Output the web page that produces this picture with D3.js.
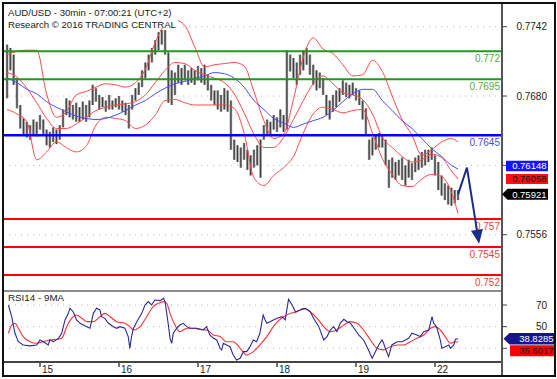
<!DOCTYPE html>
<html><head><meta charset="utf-8">
<script src="https://cdn.jsdelivr.net/npm/d3@7"></script>
<style>
html,body{margin:0;padding:0;background:#fff;}
svg{display:block;font-family:"Liberation Sans",Arial,sans-serif;}
</style></head><body>
<svg id="c" width="557" height="379"></svg>
<script>
// ---------- DATA ----------
// time axis: trading hours since 14th 00:00 (weekend removed)
const dayTickHours = [24, 48, 72, 96, 120, 144];
const dayTickLabels = ["15", "16", "17", "18", "19", "22"];
const priceTicks = [0.7742, 0.7680, 0.7618, 0.7556];
const priceTickLabels = ["0.7742", "0.7680", "", "0.7556"];   // 0.7618 sits under the value tags
const rsiTicks = [70, 50, 30];
const rsiTickLabels = ["70", "50", ""];                         // 30 sits under the value tags

const titleLine1 = "AUD/USD - 30min - 07:00:21 (UTC+2)";
const titleLine2 = "Research \u00A9 2016 TRADING CENTRAL";
const rsiTitle = "RSI14 - 9MA";

// price bars (one every hour starting at hour 14)
const barStartHour = 14;
const barHighs = [
0.7726,0.7723,0.7717,0.7696,0.7672,0.7660,0.7657,0.7654,0.7659,0.7657,
0.7663,0.7659,0.7650,0.7648,0.7652,0.7650,0.7654,0.7668,0.7678,0.7676,
0.7672,0.7674,0.7670,0.7675,0.7672,0.7676,0.7690,0.7687,0.7681,0.7679,
0.7676,0.7681,0.7676,0.7678,0.7680,0.7676,0.7674,0.7672,0.7681,0.7687,
0.7692,0.7703,0.7710,0.7717,0.7723,0.7730,0.7737,0.7739,0.7739,0.7719,
0.7703,0.7701,0.7708,0.7705,0.7708,0.7703,0.7705,0.7703,0.7707,0.7705,
0.7708,0.7699,0.7690,0.7685,0.7685,0.7681,0.7687,0.7685,0.7676,0.7641,
0.7636,0.7634,0.7638,0.7632,0.7627,0.7632,0.7636,0.7641,0.7654,0.7659,
0.7657,0.7663,0.7661,0.7668,0.7663,0.7721,0.7717,0.7714,0.7710,0.7717,
0.7721,0.7723,0.7717,0.7708,0.7703,0.7701,0.7696,0.7681,0.7676,0.7681,
0.7685,0.7687,0.7694,0.7692,0.7690,0.7692,0.7687,0.7685,0.7676,0.7669,
0.7641,0.7643,0.7645,0.7647,0.7645,0.7641,0.7623,0.7625,0.7621,0.7623,
0.7625,0.7618,0.7623,0.7620,0.7625,0.7627,0.7630,0.7632,0.7632,0.7634,
0.7627,0.7621,0.7609,0.7602,0.7600,0.7598,0.7596,0.7596];
const barLows = [
0.7678,0.7703,0.7690,0.7669,0.7651,0.7645,0.7643,0.7641,0.7645,0.7644,
0.7650,0.7645,0.7636,0.7634,0.7639,0.7637,0.7641,0.7652,0.7663,0.7661,
0.7659,0.7657,0.7657,0.7659,0.7657,0.7661,0.7672,0.7675,0.7668,0.7670,
0.7666,0.7668,0.7668,0.7670,0.7668,0.7666,0.7663,0.7651,0.7668,0.7676,
0.7681,0.7688,0.7696,0.7703,0.7710,0.7717,0.7721,0.7726,0.7717,0.7674,
0.7672,0.7681,0.7692,0.7690,0.7694,0.7690,0.7692,0.7690,0.7694,0.7692,
0.7690,0.7685,0.7676,0.7672,0.7668,0.7666,0.7668,0.7666,0.7632,0.7623,
0.7621,0.7616,0.7623,0.7614,0.7609,0.7616,0.7618,0.7607,0.7641,0.7645,
0.7645,0.7650,0.7648,0.7652,0.7648,0.7650,0.7702,0.7696,0.7690,0.7699,
0.7703,0.7708,0.7699,0.7690,0.7685,0.7687,0.7681,0.7663,0.7659,0.7666,
0.7670,0.7675,0.7681,0.7679,0.7678,0.7681,0.7676,0.7672,0.7659,0.7645,
0.7623,0.7627,0.7632,0.7634,0.7634,0.7618,0.7598,0.7607,0.7605,0.7609,
0.7605,0.7600,0.7607,0.7605,0.7612,0.7614,0.7616,0.7618,0.7621,0.7623,
0.7609,0.7596,0.7591,0.7587,0.7583,0.7582,0.7584,0.7587];
const lastClose = 0.75921;

// Bollinger bands and moving average (sampled every 3 hours)
const bandHours = [14,17,20,23,26,29,32,35,38,41,44,47,50,53,56,59,62,65,68,71,74,77,80,83,86,89,92,95,98,101,104,107,110,113,116,119,122,125,128,131,134,137,140,143,146,149,151];
const bandUpper = [
0.7717,0.7720,0.7721,0.7721,0.7682,0.7661,0.7666,0.7681,0.7684,0.7688,
0.7691,0.7690,0.7688,0.7692,0.7704,0.7728,0.7744,0.7748,0.7743,0.7724,
0.7706,0.7708,0.7709,0.7710,0.7707,0.7684,0.7658,0.7642,0.7646,0.7677,
0.7715,0.7732,0.7722,0.7718,0.7708,0.7698,0.7699,0.7712,0.7702,0.7680,
0.7659,0.7645,0.7627,0.7632,0.7639,0.7642,0.7639];
const bandMiddle = [
0.7701,0.7697,0.7687,0.7674,0.7660,0.7651,0.7651,0.7655,0.7661,0.7667,
0.7670,0.7672,0.7673,0.7675,0.7681,0.7692,0.7703,0.7710,0.7709,0.7703,
0.7699,0.7696,0.7692,0.7682,0.7665,0.7646,0.7634,0.7634,0.7643,0.7659,
0.7676,0.7691,0.7698,0.7691,0.7683,0.7681,0.7677,0.7664,0.7643,0.7634,
0.7626,0.7621,0.7623,0.7628,0.7625,0.7613,0.76058];
const bandLower = [
0.7668,0.7664,0.7657,0.7623,0.7630,0.7639,0.7634,0.7630,0.7635,0.7654,
0.7661,0.7660,0.7658,0.7651,0.7654,0.7663,0.7676,0.7677,0.7674,0.7672,
0.7672,0.7672,0.7672,0.7669,0.7647,0.7607,0.7600,0.7609,0.7616,0.7626,
0.7647,0.7664,0.7670,0.7668,0.7665,0.7667,0.7668,0.7647,0.7624,0.7610,
0.7600,0.7599,0.7606,0.7610,0.7608,0.7594,0.7575];
const maValues = [
0.7696,0.7692,0.7686,0.7682,0.7675,0.7670,0.7666,0.7662,0.7660,0.7659,
0.7660,0.7663,0.7667,0.7672,0.7676,0.7682,0.7687,0.7691,0.7693,0.7696,
0.7698,0.7701,0.7700,0.7696,0.7688,0.7676,0.7668,0.7660,0.7656,0.7652,
0.7655,0.7658,0.7661,0.7667,0.7675,0.7682,0.7686,0.7686,0.7676,0.7667,
0.7658,0.7651,0.7642,0.7633,0.7626,0.7618,0.76148];

// key levels
const levelValues = [0.772, 0.7695, 0.7645, 0.757, 0.7545, 0.752];
const levelLabels = ["0.772", "0.7695", "0.7645", "0.757", "0.7545", "0.752"];
const levelKinds = ["res", "res", "pivot", "sup", "sup", "sup"];

// forecast arrow
const arrowHours = [151, 153.7, 157.4];
const arrowPrices = [0.75921, 0.7616, 0.7548];

// RSI14 and its 9-period MA
const rsiHours = [14.4,15.4,15.9,16.4,17.4,18.9,21.0,23.0,24.0,25.0,26.5,27.0,28.1,29.6,30.6,31.6,32.6,33.1,34.1,35.1,36.2,38.2,39.2,40.2,41.2,42.2,42.7,43.7,44.8,46.3,47.3,48.3,49.8,50.8,51.3,51.8,52.4,53.4,54.9,55.9,56.9,57.9,58.9,60.5,61.5,62.0,62.5,63.0,63.5,64.0,64.5,65.5,66.5,67.5,68.6,69.6,71.6,73.6,74.6,75.6,76.7,77.7,78.7,79.2,79.7,80.7,81.7,82.7,83.7,84.8,85.8,86.8,87.8,88.8,89.8,90.8,91.8,92.4,92.9,93.9,94.9,
96.0,97.5,98.5,99.5,100.6,101.6,103.1,104.6,106.1,107.1,108.7,110.2,111.2,112.2,113.2,114.2,115.2,116.3,117.3,118.3,119.8,120.8,122.3,123.8,124.9,125.9,126.9,127.9,128.4,128.9,129.9,130.9,132.5,134.0,135.0,136.0,137.0,138.5,139.5,140.6,142.1,143.1,143.6,144.1,144.6,145.6,146.1,147.1,148.2,148.7,149.7,150.2,151];
const rsiValues = [70,59.2,51.5,43.9,36.1,33.1,32.2,33.1,37.7,36.1,33.1,37.7,36.1,39.2,43.9,56.2,62.3,67,63.8,56.2,53.1,50,48.5,62.3,67,65.4,59.2,57.7,53.1,50,48.5,50,48.5,40.8,30,40.8,48.5,54.6,62.3,70,73.1,70,74.6,74,76.2,73.1,62.3,51.5,39.2,34.6,43.9,48.5,51.5,53.1,50,48.5,48.5,46.9,50,42.3,39.2,37.7,30,28.5,34.6,33.1,31.5,23.8,19.2,20.8,26.9,26.9,31.5,37.7,36.1,43.9,60.8,56.2,53.1,54.6,56.2,
57.7,59.2,56.2,75.2,70,63.8,65.4,66.9,63.8,57.7,50,37.7,40.8,46.9,50,45.4,53.1,56.8,54.6,53.1,46.9,42.3,37.7,28.5,20.8,26.9,33.1,37.7,34.6,30,22.3,33.1,36.1,36.1,37.7,39.2,43.9,42.3,40.8,45.4,46.9,59.2,53.1,51.5,48.5,37.7,30,31.5,33.1,30,33.1,38.3,38.8285];
const rsiMaHours = [14.4,15.4,16.4,17.4,18.9,21.0,23.0,25.0,27.0,29.1,30.6,32.1,33.6,35.1,36.7,38.2,40.2,42.2,43.7,45.3,47.3,49.8,51.3,52.4,54.4,56.4,58.4,59.9,61.5,62.5,63.5,65.0,66.5,68.6,70.6,72.6,74.6,76.7,78.7,80.7,82.7,84.8,86.8,88.8,90.8,92.9,94.9,96.2,98,100.1,102.1,104.1,106.1,108.2,110.2,112.2,114.2,116.3,118.3,120.3,122.3,124.4,126.4,128.4,130.4,132.5,134.5,136.5,138.5,140.6,142.6,144.1,145.6,147.1,148.7,150.2,151];
const rsiMaValues = [43.9,51.5,53.1,48.5,40.8,36.1,34.6,36.1,37.7,38.3,39.2,50,57.7,60.8,57.7,54.6,54.6,59.2,62.3,59.2,54.6,53.1,50,46.9,50,59.2,68.5,71.5,73.1,71.5,62.3,51.5,45.4,48.5,48.5,47.5,46.9,42.3,40.8,36.1,36.1,30,23.8,26.9,33.1,40.8,50,54.6,59.2,62.3,63.8,66.9,63.8,57.7,50,45.4,46.9,51.5,54.6,53.1,46.9,37.7,30,28.5,31.5,33.1,33.1,36.1,39.2,42.3,48.5,50,46.9,40.8,34.6,36.1,35.6017];

// ---------- DRAWING ----------
const svg = d3.select("#c");
const L = 3, R = 502, PT = 3, PB = 291, RB = 362;
const x = d3.scaleLinear().domain([24, 144]).range([40, 435]);
const y = d3.scaleLinear().domain([0.752, 0.7742]).range([275, 26.7]);
const ry = d3.scaleLinear().domain([30, 70]).range([348.3, 305]);

const colors = {res: "#1f9a1f", pivot: "#0000ff", sup: "#ff0000"};
const labelColors = {res: "#55aa33", pivot: "#4a4aff", sup: "#ff3b3b"};

const defs = svg.append("defs");
defs.append("clipPath").attr("id", "cp").append("rect").attr("x", L).attr("y", PT).attr("width", R - L).attr("height", PB - PT);
defs.append("clipPath").attr("id", "cr").append("rect").attr("x", L).attr("y", PB).attr("width", R - L).attr("height", RB - PB);

svg.append("rect").attr("width", 557).attr("height", 379).attr("fill", "#fff");

// dotted grids
const gp = svg.append("g").attr("clip-path", "url(#cp)");
gp.selectAll("line.grid").data(priceTicks).join("line").attr("class", "grid")
  .attr("x1", L).attr("x2", R).attr("y1", d => y(d)).attr("y2", d => y(d))
  .attr("stroke", "#b8b8b8").attr("stroke-width", 1).attr("stroke-dasharray", "1,5");

// bars
const bars = barHighs.map((h, i) => ({t: barStartHour + i, h, l: barLows[i]}));
gp.selectAll("rect.bar").data(bars).join("rect").attr("class", "bar")
  .attr("x", d => x(d.t) - 1.25).attr("width", 2.5)
  .attr("y", d => y(d.h)).attr("height", d => Math.max(1, y(d.l) - y(d.h)))
  .attr("fill", "#8e8e8e");
gp.selectAll("line.barc").data(bars).join("line").attr("class", "barc")
  .attr("x1", d => x(d.t)).attr("x2", d => x(d.t))
  .attr("y1", d => y(d.h)).attr("y2", d => y(d.l))
  .attr("stroke", "#1a1a1a").attr("stroke-width", 0.7);

// bands & MA
const lineP = vals => d3.line().x((d, i) => x(bandHours[i])).y(d => y(d)).curve(d3.curveMonotoneX)(vals);
[bandUpper, bandMiddle, bandLower].forEach(v => {
  gp.append("path").attr("d", lineP(v)).attr("fill", "none").attr("stroke", "#ff4a4a").attr("stroke-width", 1);
});
gp.append("path").attr("d", lineP(maValues)).attr("fill", "none").attr("stroke", "#4a4aff").attr("stroke-width", 1);

// levels
levelValues.forEach((v, i) => {
  const k = levelKinds[i];
  gp.append("line").attr("x1", L).attr("x2", R).attr("y1", y(v)).attr("y2", y(v))
    .attr("stroke", colors[k]).attr("stroke-width", k === "pivot" ? 2.4 : 2);
  svg.append("text").attr("x", 500).attr("y", y(v) + 11).attr("text-anchor", "end")
    .attr("font-size", "10px").attr("fill", labelColors[k]).text(levelLabels[i]);
});

// forecast arrow
const ap = arrowHours.map((h, i) => [x(h), y(arrowPrices[i])]);
const tip = ap[ap.length - 1], prev = ap[ap.length - 2];
const dx = tip[0] - prev[0], dy = tip[1] - prev[1], len = Math.hypot(dx, dy);
const ux = dx / len, uy = dy / len;
const base = [tip[0] - 14 * ux, tip[1] - 14 * uy];
const shaft = ap.slice(0, -1).concat([base]);
svg.append("path").attr("d", d3.line()(shaft)).attr("fill", "none")
  .attr("stroke", "#1b2b8c").attr("stroke-width", 2).attr("stroke-linejoin", "miter");
svg.append("polygon").attr("points", [
  tip, [base[0] - uy * 6, base[1] + ux * 6], [base[0] + uy * 6, base[1] - ux * 6]
].map(p => p.join(",")).join(" ")).attr("fill", "#1b2b8c");

// title
svg.append("rect").attr("x", 4).attr("y", 4).attr("width", 174).attr("height", 24).attr("fill", "#fff");
svg.append("text").attr("x", 8).attr("y", 16).attr("font-size", "9.6px").attr("fill", "#222").text(titleLine1);
svg.append("text").attr("x", 8).attr("y", 27.5).attr("font-size", "9.6px").attr("fill", "#222").text(titleLine2);

// RSI panel
const gr = svg.append("g").attr("clip-path", "url(#cr)");
gr.selectAll("line.grid").data(rsiTicks).join("line").attr("class", "grid")
  .attr("x1", L).attr("x2", R).attr("y1", d => ry(d)).attr("y2", d => ry(d))
  .attr("stroke", "#b8b8b8").attr("stroke-width", 1).attr("stroke-dasharray", "1,5");
gr.append("path").attr("d", d3.line().x((d, i) => x(rsiMaHours[i])).y(d => ry(d)).curve(d3.curveMonotoneX)(rsiMaValues))
  .attr("fill", "none").attr("stroke", "#ff3030").attr("stroke-width", 1.1);
gr.append("path").attr("d", d3.line().x((d, i) => x(rsiHours[i])).y(d => ry(d))(rsiValues))
  .attr("fill", "none").attr("stroke", "#2a2a9a").attr("stroke-width", 1.1);
svg.append("text").attr("x", 8).attr("y", 300.5).attr("font-size", "9.8px").attr("fill", "#222").text(rsiTitle);

// panel separators and axes
svg.append("line").attr("x1", L).attr("x2", R).attr("y1", PB).attr("y2", PB).attr("stroke", "#666").attr("stroke-width", 1.5);
svg.append("line").attr("x1", L).attr("x2", R).attr("y1", RB).attr("y2", RB).attr("stroke", "#444").attr("stroke-width", 2);
svg.append("line").attr("x1", R).attr("x2", R).attr("y1", PT).attr("y2", 376).attr("stroke", "#555").attr("stroke-width", 2);

// right price axis
const ya = svg.append("g");
ya.selectAll("line").data(priceTicks).join("line")
  .attr("x1", R).attr("x2", R + 5).attr("y1", d => y(d)).attr("y2", d => y(d)).attr("stroke", "#444");
ya.selectAll("text").data(priceTicks).join("text")
  .attr("x", 547).attr("y", d => y(d) + 3.5).attr("text-anchor", "end")
  .attr("font-size", "10px").attr("fill", "#222").text((d, i) => priceTickLabels[i]);
const ra = svg.append("g");
ra.selectAll("line").data(rsiTicks).join("line")
  .attr("x1", R).attr("x2", R + 5).attr("y1", d => ry(d)).attr("y2", d => ry(d)).attr("stroke", "#444");
ra.selectAll("text").data(rsiTicks).join("text")
  .attr("x", 547).attr("y", d => ry(d) + 3.5).attr("text-anchor", "end")
  .attr("font-size", "10px").attr("fill", "#222").text((d, i) => rsiTickLabels[i]);

// x axis (day ticks)
const xa = svg.append("g");
xa.selectAll("line").data(dayTickHours).join("line")
  .attr("x1", d => x(d)).attr("x2", d => x(d)).attr("y1", RB).attr("y2", RB + 5).attr("stroke", "#444").attr("stroke-width", 1.5);
xa.selectAll("text").data(dayTickHours).join("text")
  .attr("x", d => x(d) + 2).attr("y", RB + 10.5).attr("font-size", "10px").attr("fill", "#222")
  .text((d, i) => dayTickLabels[i]);

// value tags
function tag(yc, txt, fill, tcol, pointX, x0, x1, h) {
  const t = yc - h / 2, b = yc + h / 2;
  const pts = pointX != null ? [[pointX, yc], [x0, t], [x1, t], [x1, b], [x0, b]] : [[x0, t], [x1, t], [x1, b], [x0, b]];
  svg.append("polygon").attr("points", pts.map(p => p.join(",")).join(" ")).attr("fill", fill);
  svg.append("text").attr("x", x1 - 1.5).attr("y", yc + 3.3).attr("text-anchor", "end")
    .attr("font-size", "9.5px").attr("fill", tcol).text(txt);
}
const midLast = bandMiddle[bandMiddle.length - 1], maLast = maValues[maValues.length - 1];
const yMid = y(midLast);
const yMa = Math.min(y(maLast), yMid - 13);
tag(yMa, maLast.toFixed(5), "#1414ff", "#fff", null, 506, 548, 10.5);
tag(yMid, midLast.toFixed(5), "#ff1010", "#111", null, 506, 548, 10);
tag(y(lastClose), lastClose.toFixed(5), "#000", "#fff", R, 507.5, 548, 11);

const rsiLast = rsiValues[rsiValues.length - 1], rsiMaLast = rsiMaValues[rsiMaValues.length - 1];
const yRsi = ry(rsiLast);
const yRsiMa = Math.max(ry(rsiMaLast), yRsi + 12);
tag(yRsi, rsiLast.toFixed(4), "#16168a", "#fff", 503.5, 509.5, 555, 11.5);
tag(yRsiMa, rsiMaLast.toFixed(4), "#ff0000", "#111", null, 510, 555, 11);

// outer frame
svg.append("rect").attr("x", 3).attr("y", 3).attr("width", 552).attr("height", 373)
  .attr("fill", "none").attr("stroke", "#111").attr("stroke-width", 2);
</script>
</body></html>
